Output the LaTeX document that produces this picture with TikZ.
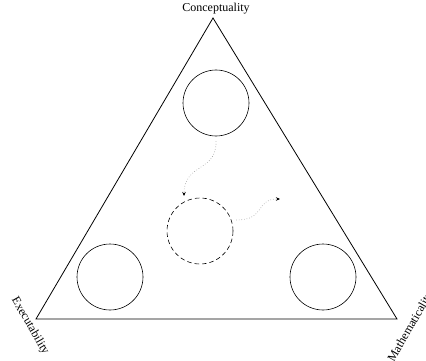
\documentclass[tikz,border=0pt]{standalone}
\usepackage{fontspec}
\setmainfont{Liberation Serif}
\usetikzlibrary{arrows.meta}
\begin{document}
\begin{tikzpicture}[x=1pt,y=-1pt,
  circ/.style={circle,draw,line width=0.6pt,minimum size=66pt,inner sep=0pt},
  dcirc/.style={circ,dash pattern=on 4.5pt off 3pt},
  lbl/.style={font=\fontsize{12}{14}\selectfont,inner sep=0pt},
  flow/.style={draw=gray!80,dotted,line width=0.6pt,-{Stealth[length=4pt,width=3.5pt,black]}}]
\useasboundingbox (0,0) rectangle (426,361);
\coordinate (apex) at (213,18);
\coordinate (bl) at (36,319);
\coordinate (br) at (397,319);
\draw[line width=0.8pt] (apex) -- (bl) -- (br) -- cycle;
\node[circ] (top) at (216,103) {};
\node[dcirc] (mid) at (200,231) {};
\node[circ] (left) at (110,277) {};
\node[circ] (right) at (323,277) {};
\node[lbl] (c) at (216,9) {Conceptuality};
\node[lbl,rotate=-60] (e) at (30,326) {Executability};
\node[lbl,rotate=60] (m) at (411,327) {Mathematicality};
\coordinate (t1) at (184,196);
\coordinate (t2) at (280,199);
\draw[flow] (top.south) ++(0,5) .. controls (217,172) and (184,163) .. (t1);
\draw[flow] (mid.east) ++(3,-11) .. controls (266,220) and (255,199) .. (t2);
\end{tikzpicture}
\end{document}
